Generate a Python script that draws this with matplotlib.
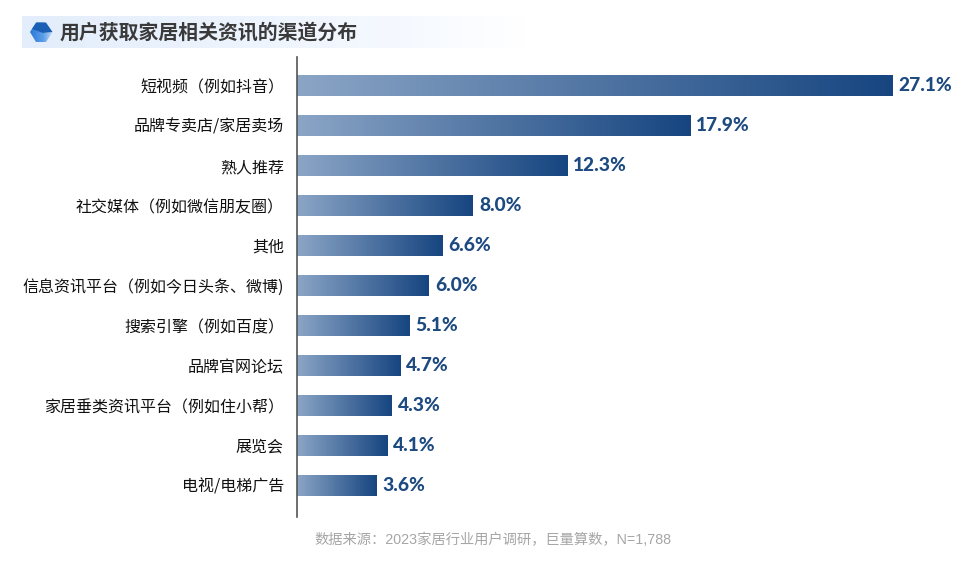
# channel distribution, horizontal gradient bars

import matplotlib
matplotlib.use('Agg')
import matplotlib.pyplot as plt
import numpy as np
from matplotlib.colors import LinearSegmentedColormap
from matplotlib.patches import Polygon

plt.rcParams['font.family'] = ['Noto Sans CJK SC', 'DejaVu Sans']

title = '用户获取家居相关资讯的渠道分布'
source = '数据来源：2023家居行业用户调研，巨量算数，N=1,788'
categories = ['短视频（例如抖音）', '品牌专卖店/家居卖场', '熟人推荐', '社交媒体（例如微信朋友圈）', '其他',
              '信息资讯平台（例如今日头条、微博)', '搜索引擎（例如百度）', '品牌官网论坛',
              '家居垂类资讯平台（例如住小帮）', '展览会', '电视/电梯广告']
values = [27.1, 17.9, 12.3, 8.0, 6.6, 6.0, 5.1, 4.7, 4.3, 4.1, 3.6]

W, H = 980, 565
fig = plt.figure(figsize=(W / 100, H / 100), dpi=100)

# full figure overlay in pixel coordinates for the header
bg = fig.add_axes([0, 0, 1, 1])
bg.axis('off')

band = LinearSegmentedColormap.from_list('band', [(0, '#e3edfb'), (0.75, '#f5f9ff'), (1, '#ffffff')])
bg.imshow(np.linspace(0, 1, 256).reshape(1, -1), extent=(22, 525, 48, 16), cmap=band, aspect='auto')

# hexagon icon: gradient base, lighter lower right face, dark top face
hex_pts = [(30, 32), (36, 22.5), (46, 22.5), (52.5, 32), (46, 42), (36, 42)]
icon_left = LinearSegmentedColormap.from_list('icon_left', ['#2a78d8', '#5ea0e8'])
icon_right = LinearSegmentedColormap.from_list('icon_right', ['#4f97e6', '#cfe2f8'])
im = bg.imshow(np.linspace(0, 1, 64).reshape(1, -1), extent=(30, 44, 42, 22), cmap=icon_left, aspect='auto')
im.set_clip_path(Polygon(hex_pts, closed=True, transform=bg.transData))
im2 = bg.imshow(np.linspace(0, 1, 64).reshape(1, -1), extent=(42, 53, 42, 30), cmap=icon_right, aspect='auto')
im2.set_clip_path(Polygon([(43, 33), (52.5, 32), (46, 42), (42, 42)], closed=True, transform=bg.transData))
bg.add_patch(Polygon([(36.5, 22.5), (46, 22.5), (52.5, 32), (43, 33), (32, 29)], closed=True,
                     facecolor='#1b5fb4', edgecolor='none'))
bg.set_xlim(0, W)
bg.set_ylim(H, 0)

bg.text(60, 32.5, title, fontsize=14.3, fontweight='bold', color='#3a3a3a', ha='left', va='center')
bg.text(493, 539.5, source, fontsize=10.3, color='#a6a6a6', ha='center', va='center',
        family=['Liberation Sans', 'Noto Sans CJK SC'])

# bar axes
ax = fig.add_axes([297 / W, 1 - 517 / H, (W - 297) / W, 460 / H])
ax.patch.set_alpha(0)
y = np.arange(len(values))

cmap = LinearSegmentedColormap.from_list('bar', ['#8ba5c6', '#164580'])
grad = np.linspace(0, 1, 256).reshape(1, -1)
for v, yi in zip(values, y):
    ax.imshow(grad, extent=(0, v, yi + 0.26, yi - 0.26), cmap=cmap, aspect='auto', zorder=2)
    ax.text(v + 0.28, yi + 0.01, f'{v:.1f}%', fontsize=13.8, fontweight='black', color='#1d4a80',
            ha='left', va='center', family=['Lato', 'DejaVu Sans'])

ax.set_xlim(0, (W - 297) / 21.97)
ax.set_ylim((517 - 85.5) / 40, (57 - 85.5) / 40)
ax.set_yticks(y)
ax.set_yticklabels(categories, fontsize=11.5, color='#111111')
ax.tick_params(axis='y', length=0, pad=9.4)
ax.set_xticks([])
for s in ['top', 'right', 'bottom']:
    ax.spines[s].set_visible(False)
ax.spines['left'].set_color('#555555')
ax.spines['left'].set_linewidth(1.2)

fig.savefig('out.png', dpi=100)
